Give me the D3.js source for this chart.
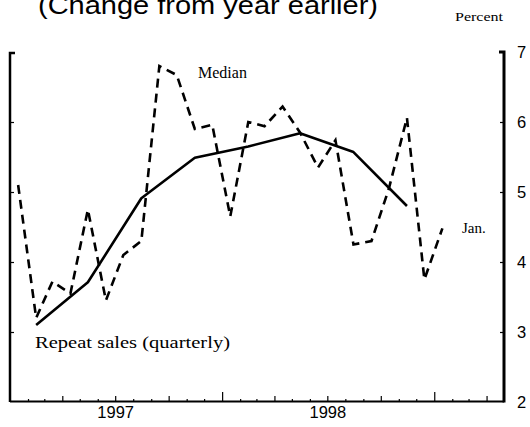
<!DOCTYPE html>
<html>
<head>
<meta charset="utf-8">
<script src="https://cdn.jsdelivr.net/npm/d3@7"></script>
<style>
  html, body { margin: 0; padding: 0; background: #fff; }
  svg { display: block; }
</style>
</head>
<body>
<svg id="chart" width="530" height="427"></svg>
<script>
// ---- data ----
const medianMonths = ["1997-01","1997-02","1997-03","1997-04","1997-05","1997-06","1997-07","1997-08","1997-09","1997-10","1997-11","1997-12",
                      "1998-01","1998-02","1998-03","1998-04","1998-05","1998-06","1998-07","1998-08","1998-09","1998-10","1998-11","1998-12",
                      "1999-01"];
const medianValues = [5.1, 3.2, 3.72, 3.55, 4.75, 3.45, 4.1, 4.3, 6.8, 6.67, 5.9, 5.96,
                      4.65, 6.0, 5.94, 6.22, 5.85, 5.35, 5.74, 4.25, 4.3, 5.05, 6.06, 3.75,
                      4.48];
const repeatQuarters = ["1997Q1","1997Q2","1997Q3","1997Q4","1998Q1","1998Q2","1998Q3","1998Q4"];
const repeatValues = [3.1, 3.71, 4.91, 5.49, 5.65, 5.84, 5.57, 4.8];
const yTicks = [2, 3, 4, 5, 6, 7];
const yearLabels = ["1997", "1998"];

// ---- setup ----
const svg = d3.select("#chart");
const x = d3.scaleTime()
  .domain([new Date(1997, 0, 1), new Date(1999, 4, 1)])
  .range([10, 504]);
const y = d3.scaleLinear().domain([2, 7]).range([402, 52]);

const parseMonth = s => { const [yy, mm] = s.split("-").map(Number); return new Date(yy, mm - 1, 15); };
const parseQuarter = s => { const yy = +s.slice(0, 4), q = +s.slice(5); return new Date(yy, (q - 1) * 3 + 1, 15); };

const median = medianMonths.map((m, i) => ({ date: parseMonth(m), v: medianValues[i] }));
const repeat = repeatQuarters.map((q, i) => ({ date: parseQuarter(q), v: repeatValues[i] }));

// ---- title / labels ----
svg.append("text")
  .attr("x", 38).attr("y", 14)
  .attr("font-family", "Liberation Sans, Arial, sans-serif")
  .attr("font-size", 25)
  .attr("textLength", 340).attr("lengthAdjust", "spacingAndGlyphs")
  .attr("fill", "#000")
  .text("(Change from year earlier)");

svg.append("text")
  .attr("x", 455).attr("y", 21)
  .attr("font-family", "Liberation Serif, Times New Roman, serif")
  .attr("font-size", 13.5)
  .attr("textLength", 48).attr("lengthAdjust", "spacingAndGlyphs")
  .text("Percent");

// ---- axes frame ----
const frame = svg.append("g").attr("stroke", "#000").attr("fill", "none");
frame.append("path").attr("stroke-width", 2.5)
  .attr("d", `M15,${y(7) + 1}H10V${y(2)}`);
frame.append("path").attr("stroke-width", 3)
  .attr("d", `M499,${y(7)}H504V${y(2) + 0.5}`);
frame.append("path").attr("stroke-width", 2)
  .attr("d", `M10,${y(2) - 0.5}H504`);

// bottom month ticks (upward)
const monthAxis = d3.axisTop(x)
  .ticks(d3.timeMonth.every(1))
  .tickFormat("")
  .tickSize(3);
const gm = svg.append("g").attr("transform", `translate(0,${y(2)})`).call(monthAxis);
gm.select(".domain").remove();
gm.selectAll(".tick line")
  .attr("stroke-width", 1.2)
  .attr("y2", d => d.getMonth() === 0 ? -10 : (d.getMonth() % 3 === 0 ? -6 : -3));
gm.selectAll(".tick").filter(d => d <= x.domain()[0] || d >= x.domain()[1]).remove();

// year labels
const yearAxis = d3.axisBottom(x)
  .tickValues(yearLabels.map(s => new Date(+s, 6, 1)))
  .tickFormat(d3.timeFormat("%Y"))
  .tickSize(0).tickPadding(4);
const gy = svg.append("g").attr("transform", `translate(0,${y(2)})`).call(yearAxis);
gy.select(".domain").remove();
gy.selectAll("text").attr("font-family", "Liberation Sans, Arial, sans-serif")
  .attr("font-size", 16.5).attr("fill", "#000");

// left axis ticks (inward)
const leftAxis = d3.axisRight(y).tickValues(yTicks.slice(1, -1)).tickSize(4).tickFormat("");
const gl = svg.append("g").attr("transform", "translate(10,0)").call(leftAxis);
gl.select(".domain").remove();
gl.selectAll(".tick line").attr("stroke-width", 1.2);

// right axis ticks (inward) + labels
const rightAxis = d3.axisRight(y).tickValues(yTicks).tickSize(-4).tickPadding(13).tickFormat(d3.format("d"));
const gr = svg.append("g").attr("transform", "translate(504,0)").call(rightAxis);
gr.select(".domain").remove();
gr.selectAll(".tick line").attr("stroke-width", 1.2);
gr.selectAll(".tick").filter(d => d === 2 || d === 7).select("line").remove();
gr.selectAll("text").attr("font-family", "Liberation Sans, Arial, sans-serif")
  .attr("font-size", 16.5).attr("fill", "#000");

// ---- lines ----
const line = d3.line().x(d => x(d.date)).y(d => y(d.v));
svg.append("path").datum(median)
  .attr("d", line)
  .attr("fill", "none").attr("stroke", "#000")
  .attr("stroke-width", 2.6)
  .attr("stroke-dasharray", "9,6");
svg.append("path").datum(repeat)
  .attr("d", line)
  .attr("fill", "none").attr("stroke", "#000")
  .attr("stroke-width", 2.6)
  .attr("stroke-linejoin", "round");

// ---- series labels ----
const serif = "Liberation Serif, Times New Roman, serif";
svg.append("text").attr("x", 198).attr("y", 78)
  .attr("font-family", serif).attr("font-size", 16)
  .text("Median");
svg.append("text").attr("x", 35).attr("y", 348)
  .attr("font-family", serif).attr("font-size", 16.5)
  .attr("textLength", 195).attr("lengthAdjust", "spacingAndGlyphs")
  .text("Repeat sales (quarterly)");
svg.append("text").attr("x", 462).attr("y", 233)
  .attr("font-family", serif).attr("font-size", 15)
  .text("Jan.");
</script>
</body>
</html>
